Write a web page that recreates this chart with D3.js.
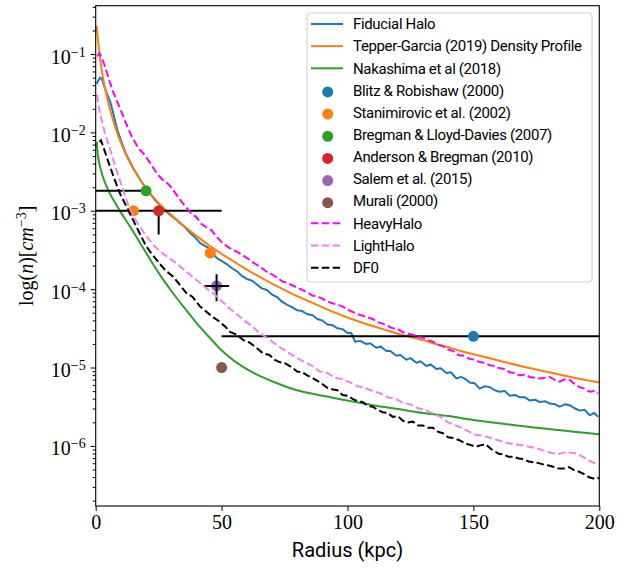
<!DOCTYPE html>
<html>
<head>
<meta charset="utf-8">
<script src="https://cdn.jsdelivr.net/npm/d3@7"></script>
<style>
  body { margin: 0; background: white; }
  .legend-text { font-family: Roboto, sans-serif; font-size: 15px; letter-spacing: -0.35px; }
  .tick-label { font-family: 'Liberation Serif', serif; font-size: 20px; }
</style>
</head>
<body>
<div id="chart"></div>
<script>
// Model density profiles, [radius (kpc), log10 n (cm^-3)]
const fiducialHalo = [[0.4,-1.38],[1,-1.34],[1.8,-1.30],[2.5,-1.32],[3.5,-1.42],[4.5,-1.51],[5.7,-1.60],[7,-1.76],[8.6,-1.97],[10,-2.10],[12,-2.27],[15,-2.46],[18,-2.62],[21,-2.76],[24,-2.88],[27,-2.98],[29.5,-3.05],[31.5,-3.10],[33.5,-3.16],[35.5,-3.21],[37.4,-3.28],[39.5,-3.34],[41.4,-3.41],[43,-3.44],[44.6,-3.47],[46,-3.52],[48,-3.60],[50,-3.64],[52,-3.68],[54,-3.73],[56,-3.77],[58,-3.83],[60,-3.87],[62,-3.89],[64,-3.94],[66,-3.99],[68,-4.01],[70,-4.07],[72,-4.10],[74,-4.16],[76,-4.20],[78,-4.23],[80,-4.27],[82,-4.28],[84,-4.32],[86,-4.33],[88,-4.38],[90,-4.40],[92,-4.45],[94,-4.46],[96,-4.50],[98,-4.51],[100,-4.56],[101.5,-4.56],[103,-4.67],[105,-4.66],[107.5,-4.70],[109,-4.69],[111.5,-4.75],[113,-4.73],[115.5,-4.79],[117,-4.79],[119.4,-4.85],[121,-4.84],[123.4,-4.90],[125,-4.88],[127.4,-4.94],[129,-4.92],[131.3,-4.98],[133,-4.96],[135.3,-5.02],[137,-5.01],[139.3,-5.07],[141,-5.06],[143.3,-5.14],[145,-5.12],[147,-5.15],[148.5,-5.19],[150.5,-5.20],[152.5,-5.27],[154.5,-5.24],[156.5,-5.25],[158.5,-5.29],[160.4,-5.31],[162.5,-5.30],[164.4,-5.36],[166.5,-5.35],[168.4,-5.38],[170.5,-5.38],[172.3,-5.42],[174.5,-5.41],[176.3,-5.44],[178.5,-5.43],[180.3,-5.46],[182.5,-5.47],[184.3,-5.50],[186.3,-5.47],[188.2,-5.48],[190.2,-5.52],[192.2,-5.55],[194.2,-5.54],[196.2,-5.61],[198,-5.58],[199.5,-5.63]];

const tepperGarcia = [[0.3,-0.64],[0.6,-0.72],[1,-0.85],[1.5,-0.99],[2,-1.12],[3,-1.32],[4,-1.48],[5,-1.62],[6.5,-1.80],[8,-1.96],[10,-2.13],[12,-2.28],[14,-2.41],[16,-2.52],[18,-2.62],[20,-2.71],[22.5,-2.81],[25,-2.90],[27.5,-2.98],[30,-3.05],[35,-3.19],[40,-3.32],[45,-3.44],[50,-3.55],[55,-3.65],[60,-3.75],[65,-3.84],[70,-3.93],[75,-4.01],[80,-4.09],[85,-4.16],[90,-4.23],[95,-4.30],[100,-4.36],[105,-4.42],[110,-4.47],[115,-4.52],[120,-4.57],[125,-4.61],[130,-4.65],[135,-4.70],[140,-4.74],[145,-4.79],[150,-4.83],[160,-4.91],[170,-4.99],[180,-5.06],[190,-5.13],[200,-5.19]];

const nakashima = [[0.4,-2.12],[0.7,-2.24],[1,-2.32],[2,-2.47],[3,-2.58],[5,-2.74],[7,-2.86],[10,-3.02],[14,-3.22],[18,-3.43],[22,-3.64],[26,-3.84],[30,-4.02],[35,-4.23],[40,-4.43],[45,-4.61],[50,-4.78],[55,-4.915],[60,-5.02],[66,-5.12],[72,-5.20],[80,-5.29],[90,-5.36],[100,-5.42],[110,-5.48],[120,-5.53],[130,-5.58],[140,-5.62],[150,-5.67],[160,-5.71],[175,-5.77],[190,-5.82],[200,-5.85]];

const heavyHalo = [[0.6,-1.03],[1.5,-0.99],[2.5,-1.05],[3.7,-1.16],[5,-1.29],[6.5,-1.45],[8.3,-1.59],[10,-1.72],[12,-1.88],[14,-2.03],[15.5,-2.12],[17,-2.20],[19,-2.27],[21,-2.36],[23,-2.46],[25,-2.55],[27,-2.62],[28.5,-2.65],[30,-2.70],[32,-2.79],[34,-2.88],[36,-2.96],[38,-3.04],[40,-3.08],[42,-3.17],[44,-3.21],[46,-3.25],[48,-3.33],[50,-3.40],[52,-3.45],[54,-3.49],[56,-3.52],[58,-3.56],[60,-3.60],[62,-3.65],[64,-3.69],[66,-3.73],[68,-3.78],[70,-3.81],[72,-3.85],[74,-3.90],[76,-3.92],[78,-3.95],[80,-3.98],[82,-4.01],[84,-4.04],[86,-4.08],[88,-4.09],[90,-4.12],[92,-4.16],[94,-4.18],[96,-4.20],[98,-4.22],[100,-4.26],[102,-4.29],[104,-4.32],[106,-4.34],[108,-4.36],[110,-4.38],[112,-4.42],[114,-4.44],[116,-4.47],[118,-4.50],[120,-4.51],[122,-4.55],[124,-4.57],[126,-4.58],[128,-4.61],[130,-4.62],[132,-4.65],[134,-4.67],[136,-4.71],[138,-4.73],[140,-4.77],[142,-4.79],[144,-4.84],[146,-4.85],[148.5,-4.89],[150.5,-4.90],[152.5,-4.93],[154.5,-4.94],[156.5,-4.97],[158.5,-4.98],[160.4,-5.01],[162.5,-5.02],[164.4,-5.06],[166.5,-5.07],[168.4,-5.10],[170.5,-5.09],[172.3,-5.12],[174.5,-5.13],[176.3,-5.14],[178.5,-5.13],[180.3,-5.12],[182.5,-5.16],[184.3,-5.18],[186.3,-5.15],[188.2,-5.16],[190.2,-5.21],[192.2,-5.25],[194.2,-5.27],[196.2,-5.31],[198,-5.30],[199.5,-5.33]];

const lightHalo = [[0.5,-1.52],[1.7,-1.76],[3.7,-2.01],[5.7,-2.21],[7.7,-2.43],[10.3,-2.68],[13.6,-2.99],[15.5,-3.10],[17.5,-3.20],[20,-3.32],[23,-3.44],[26,-3.53],[29,-3.60],[32,-3.67],[35,-3.75],[38,-3.83],[41,-3.91],[44,-3.99],[47,-4.06],[50,-4.15],[53,-4.24],[56,-4.32],[59,-4.40],[62,-4.47],[65,-4.56],[68,-4.62],[71,-4.69],[74,-4.76],[77,-4.82],[80,-4.88],[83,-4.93],[86,-4.98],[89,-5.05],[92,-5.07],[95,-5.13],[98,-5.15],[101,-5.19],[104,-5.24],[107,-5.26],[110,-5.30],[113,-5.33],[116,-5.38],[119,-5.40],[122,-5.45],[125,-5.47],[128,-5.52],[131,-5.54],[134,-5.59],[137,-5.63],[140,-5.70],[143,-5.74],[146,-5.78],[148.5,-5.82],[151,-5.86],[154,-5.87],[157,-5.90],[160,-5.93],[163,-5.96],[166,-5.98],[169,-5.99],[172,-6.01],[175,-6.03],[178,-6.06],[181,-6.09],[184,-6.10],[187,-6.08],[190,-6.09],[193,-6.13],[196,-6.19],[199,-6.23]];

const df0 = [[1.5,-2.12],[2.1,-2.10],[3.7,-2.25],[5.5,-2.42],[7.5,-2.60],[9.5,-2.77],[11.5,-2.90],[13.5,-3.03],[15.5,-3.16],[17.5,-3.29],[20,-3.45],[22.5,-3.56],[25.5,-3.68],[28,-3.77],[30.8,-3.84],[33,-3.93],[36,-4.05],[38.5,-4.10],[41.4,-4.22],[44,-4.29],[46.7,-4.36],[49,-4.41],[51.5,-4.48],[53.5,-4.55],[56,-4.58],[58.6,-4.65],[61,-4.68],[63.5,-4.74],[66.5,-4.82],[69,-4.84],[71,-4.90],[73,-4.93],[75.5,-4.95],[78,-5.00],[80,-5.05],[82,-5.06],[84,-5.10],[86,-5.13],[88,-5.17],[90,-5.21],[92,-5.26],[94.3,-5.28],[96,-5.29],[98,-5.35],[100,-5.36],[102,-5.40],[104,-5.43],[106,-5.44],[108,-5.49],[110,-5.50],[112,-5.54],[114,-5.57],[116,-5.58],[118,-5.63],[120,-5.62],[122,-5.68],[124,-5.70],[126,-5.69],[128,-5.74],[130,-5.74],[132,-5.77],[134,-5.77],[136,-5.82],[138,-5.84],[140,-5.89],[142,-5.90],[144.6,-5.93],[147,-5.97],[149,-5.99],[151,-6.01],[153,-5.99],[155,-5.98],[157,-6.04],[160,-6.10],[162,-6.11],[164,-6.14],[166,-6.14],[168,-6.16],[170,-6.17],[172,-6.20],[174,-6.21],[176,-6.22],[178,-6.24],[180,-6.25],[182,-6.27],[184,-6.29],[186,-6.29],[188,-6.27],[190,-6.31],[192,-6.33],[194,-6.36],[196,-6.40],[198,-6.42],[200,-6.41]];

// Observations: radius, density, x error [lo, hi], n error [lo, hi]
const obsNames = ['Blitz & Robishaw (2000)', 'Stanimirovic et al. (2002)', 'Bregman & Lloyd-Davies (2007)',
  'Anderson & Bregman (2010)', 'Salem et al. (2015)', 'Murali (2000)'];
const obsPoints = [
  [[150, 2.5e-5]],
  [[15, 1e-3], [45.5, 2.9e-4]],
  [[20, 1.8e-3]],
  [[25, 1e-3]],
  [[48, 1.1e-4]],
  [[50, 1e-5]]
];
const obsXErr = [[100, 100], null, [20, 0], [25, 25], [5, 5], null];
const obsYErr = [null, null, null, [5e-4, 0], [0.4e-4, 0.45e-4], null];

const lineNames = ['Fiducial Halo', 'Tepper-Garcia (2019) Density Profile', 'Nakashima et al (2018)'];
const dashNames = ['HeavyHalo', 'LightHalo', 'DF0'];

const xTicks = [0, 50, 100, 150, 200];
const yTicks = [1e-1, 1e-2, 1e-3, 1e-4, 1e-5, 1e-6];

const lineColors = ['#1f77b4', '#ff7f0e', '#2ca02c'];
const obsColors = ['#1f77b4', '#ff7f0e', '#2ca02c', '#d62728', '#9467bd', '#8c564b'];
const dashColors = ['#ff00ff', '#ee82ee', '#000000'];

const width = 633, height = 569;
const plot = {left: 95.7, right: 599.3, top: 5.7, bottom: 506};

let svg = d3.select('#chart')
  .append('svg')
    .attr('width', width)
    .attr('height', height)
    .style('background', 'white');

svg.append('defs').append('clipPath')
  .attr('id', 'plot-clip')
  .append('rect')
    .attr('x', plot.left)
    .attr('y', plot.top)
    .attr('width', plot.right - plot.left)
    .attr('height', plot.bottom - plot.top);

// Scales
let x = d3.scaleLinear()
  .domain([0, 200])
  .range([plot.left, plot.right]);
let y = d3.scaleLog()
  .domain([1.71e-7, 0.414])
  .range([plot.bottom, plot.top]);

let line = d3.line()
  .x(d => x(d[0]))
  .y(d => y(Math.pow(10, d[1])));
let smoothLine = d3.line()
  .x(d => x(d[0]))
  .y(d => y(Math.pow(10, d[1])))
  .curve(d3.curveMonotoneX);

let g = svg.append('g').attr('clip-path', 'url(#plot-clip)');

// Solid model lines
[fiducialHalo, tepperGarcia, nakashima].forEach((data, i) => {
  g.append('path')
    .datum(data)
    .attr('fill', 'none')
    .attr('stroke', lineColors[i])
    .attr('stroke-width', 2)
    .attr('stroke-linejoin', 'round')
    .attr('d', i === 0 ? line : smoothLine);
});

// Error bars and observation markers
function drawErrors(i) {
  obsPoints[i].forEach(p => {
    if (obsXErr[i]) {
      g.append('line')
        .attr('x1', x(p[0] - obsXErr[i][0])).attr('x2', x(p[0] + obsXErr[i][1]))
        .attr('y1', y(p[1])).attr('y2', y(p[1]))
        .attr('stroke', 'black').attr('stroke-width', 2);
    }
    if (obsYErr[i]) {
      g.append('line')
        .attr('x1', x(p[0])).attr('x2', x(p[0]))
        .attr('y1', y(p[1] - obsYErr[i][0])).attr('y2', y(p[1] + obsYErr[i][1]))
        .attr('stroke', 'black').attr('stroke-width', 2);
    }
  });
}
obsPoints.forEach((pts, i) => { if (i !== 4) drawErrors(i); });
obsPoints.forEach((pts, i) => {
  g.selectAll('.obs-' + i)
    .data(pts)
    .enter().append('circle')
      .attr('class', 'obs-' + i)
      .attr('cx', d => x(d[0]))
      .attr('cy', d => y(d[1]))
      .attr('r', 5.5)
      .attr('fill', obsColors[i]);
});
drawErrors(4);

// Dashed model lines
[heavyHalo, lightHalo, df0].forEach((data, i) => {
  g.append('path')
    .datum(data)
    .attr('fill', 'none')
    .attr('stroke', dashColors[i])
    .attr('stroke-width', 2)
    .attr('stroke-dasharray', '7.5,3.3')
    .attr('d', line);
});

// X axis
let xAxis = svg.append('g')
  .attr('transform', 'translate(0,' + plot.bottom + ')')
  .call(d3.axisBottom(x).tickValues(xTicks).tickSize(5).tickPadding(4).tickFormat(d3.format('d')));
xAxis.select('.domain').remove();
xAxis.selectAll('text')
  .attr('class', 'tick-label')
  .attr('font-family', null).attr('font-size', null)
  .attr('fill', 'black');

// Y axis, majors with 10^k labels
let yAxis = svg.append('g')
  .attr('transform', 'translate(' + plot.left + ',0)')
  .call(d3.axisLeft(y).tickValues(yTicks).tickSize(5).tickPadding(5).tickFormat(''));
yAxis.select('.domain').remove();
yAxis.selectAll('.tick text')
  .attr('class', 'tick-label')
  .attr('font-family', null).attr('font-size', null)
  .attr('fill', 'black')
  .attr('dy', '0.45em')
  .each(function(d) {
    let t = d3.select(this);
    t.append('tspan').text('10');
    t.append('tspan')
      .attr('dy', '-0.5em')
      .style('font-size', '14px')
      .text('\u2212' + Math.round(-Math.log10(d)));
  });

// Minor ticks
let minorTicks = [];
for (let e = -7; e <= -1; e++) {
  for (let k = 2; k <= 9; k++) {
    let v = k * Math.pow(10, e);
    if (v > y.domain()[0] && v < y.domain()[1]) minorTicks.push(v);
  }
}
svg.append('g')
  .attr('transform', 'translate(' + plot.left + ',0)')
  .call(d3.axisLeft(y).tickValues(minorTicks).tickSize(3).tickFormat(''))
  .select('.domain').remove();

// Frame
svg.append('rect')
  .attr('x', plot.left).attr('y', plot.top)
  .attr('width', plot.right - plot.left).attr('height', plot.bottom - plot.top)
  .attr('fill', 'none').attr('stroke', 'black').attr('stroke-width', 1.1);

// Axis labels
svg.append('text')
  .attr('x', (plot.left + plot.right) / 2)
  .attr('y', 557)
  .attr('text-anchor', 'middle')
  .style('font-family', 'Roboto, sans-serif')
  .style('font-size', '20px')
  .text('Radius (kpc)');

let yLabel = svg.append('text')
  .attr('transform', 'translate(33,' + ((plot.top + plot.bottom) / 2) + ') rotate(-90)')
  .attr('text-anchor', 'middle')
  .style('font-family', "'Liberation Serif', serif")
  .style('font-size', '20px');
yLabel.append('tspan').text('log(');
yLabel.append('tspan').style('font-style', 'italic').text('n');
yLabel.append('tspan').text(')[');
yLabel.append('tspan').style('font-style', 'italic').text('cm');
yLabel.append('tspan').attr('dy', '-0.5em').style('font-size', '14px').text('\u22123');
yLabel.append('tspan').attr('dy', '0.35em').text(']');

// Legend
let legend = svg.append('g').attr('class', 'legend');
legend.append('rect')
  .attr('x', 307).attr('y', 13)
  .attr('width', 285).attr('height', 269)
  .attr('rx', 3)
  .attr('fill', 'white').attr('fill-opacity', 0.8)
  .attr('stroke', '#cccccc');

let entries = [];
lineNames.forEach((n, i) => entries.push({name: n, type: 'line', color: lineColors[i]}));
obsNames.forEach((n, i) => entries.push({name: n, type: 'dot', color: obsColors[i]}));
dashNames.forEach((n, i) => entries.push({name: n, type: 'dash', color: dashColors[i]}));

let rows = legend.selectAll('.legend-row')
  .data(entries)
  .enter().append('g')
    .attr('class', 'legend-row')
    .attr('transform', (d, i) => 'translate(0,' + (24 + i * 22.15) + ')');
rows.filter(d => d.type !== 'dot').append('line')
  .attr('x1', 311).attr('x2', 343)
  .attr('stroke', d => d.color)
  .attr('stroke-width', 2)
  .attr('stroke-dasharray', d => d.type === 'dash' ? '7.5,3.3' : null);
rows.filter(d => d.type === 'dot').append('circle')
  .attr('cx', 327.7).attr('cy', 1.5)
  .attr('r', 5.5)
  .attr('fill', d => d.color);
rows.append('text')
  .attr('class', 'legend-text')
  .attr('x', 353)
  .attr('dy', '0.35em')
  .text(d => d.name);
</script>
</body>
</html>
